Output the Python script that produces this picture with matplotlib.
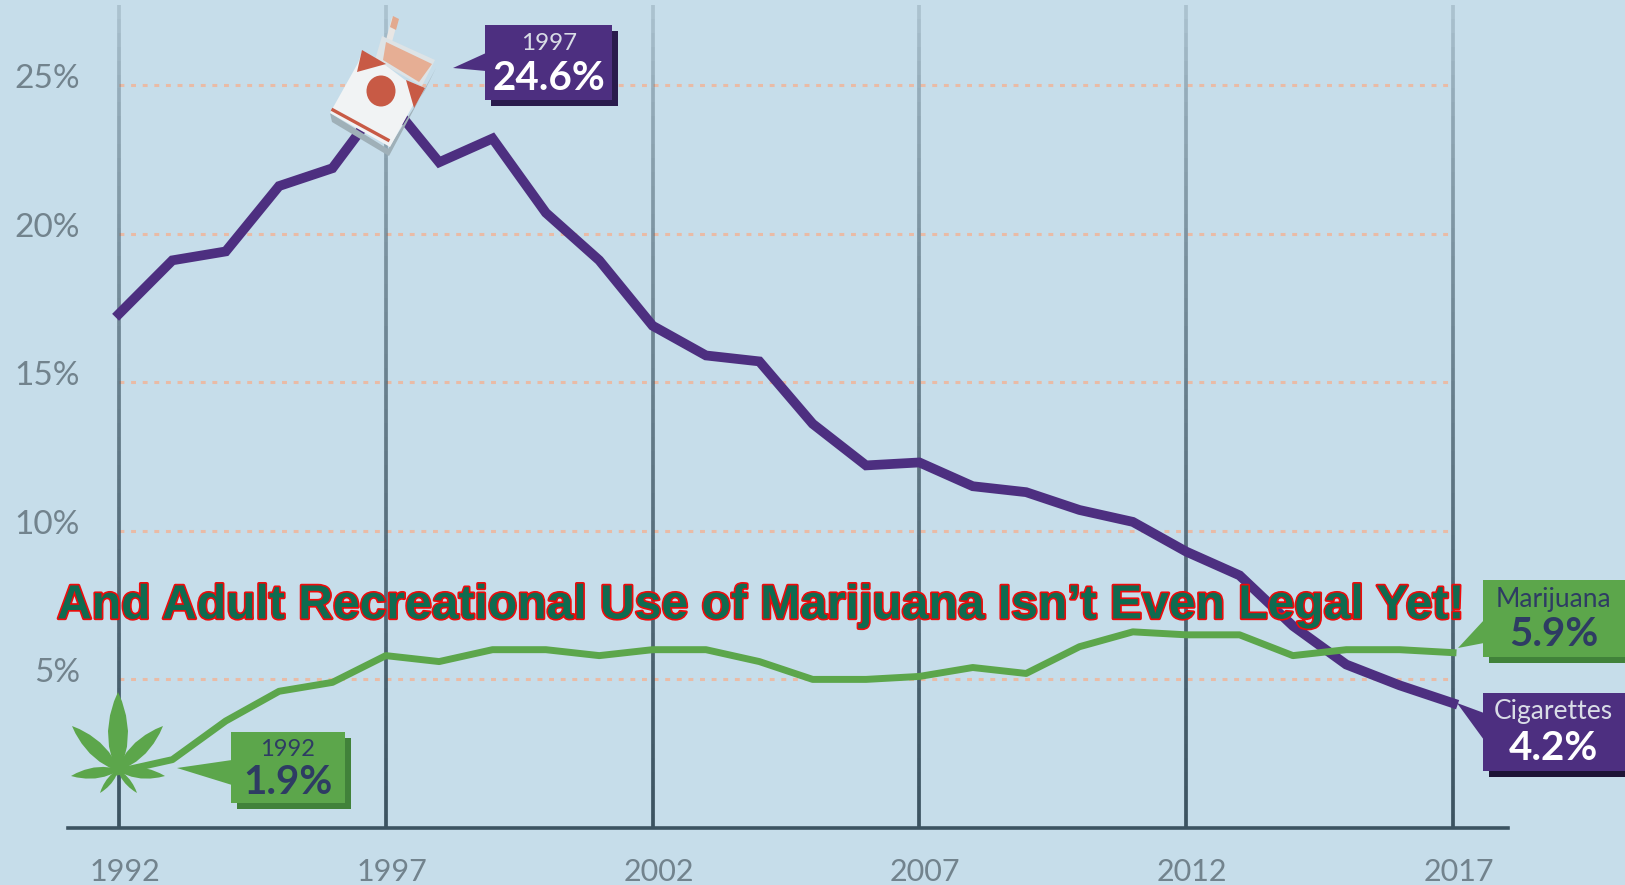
import matplotlib
matplotlib.use("Agg")
import matplotlib.pyplot as plt
import matplotlib.patheffects as pe
from matplotlib.collections import LineCollection
from matplotlib.patches import Polygon, Ellipse, Rectangle
from matplotlib.transforms import ScaledTranslation
import numpy as np

years = list(range(1992, 2018))
cigarettes = [17.3, 19.1, 19.4, 21.6, 22.2, 24.6, 22.4, 23.2, 20.7, 19.1, 16.9, 15.9, 15.7,
              13.6, 12.2, 12.3, 11.5, 11.3, 10.7, 10.3, 9.3, 8.5, 6.8, 5.5, 4.8, 4.2]
marijuana = [1.9, 2.3, 3.6, 4.6, 4.9, 5.8, 5.6, 6.0, 6.0, 5.8, 6.0, 6.0, 5.6,
             5.0, 5.0, 5.1, 5.4, 5.2, 6.1, 6.6, 6.5, 6.5, 5.8, 6.0, 6.0, 5.9]
x_ticks = [1992, 1997, 2002, 2007, 2012, 2017]
y_ticks = [5, 10, 15, 20, 25]
y_labels = ["5%", "10%", "15%", "20%", "25%"]
overlay_text = "And Adult Recreational Use of Marijuana Isn\u2019t Even Legal Yet!"

BG = "#C6DDEA"
PURPLE = "#4D2F80"
GREEN = "#5CA64B"
GREY = "#72838D"
NAVY = "#2E3C63"
DARK = "#3C5361"

plt.rcParams["font.family"] = ["Lato", "DejaVu Sans"]

fig = plt.figure(figsize=(16.25, 8.85), dpi=100, facecolor=BG)
ax = fig.add_axes([0, 0, 1, 1], facecolor=BG)

# map the years and percents on to the pixel positions of the original
ax.set_xlim(1992 - 119 / 53.36, 1992 + (1625 - 119) / 53.36)
ax.set_ylim(-(885 - 828) / 29.72, 828 / 29.72)

# vertical lines fade out toward the top
for yr in x_ticks:
    ys = np.linspace(0, 27.7, 60)
    segs = [[(yr, ys[i]), (yr, ys[i + 1])] for i in range(len(ys) - 1)]
    alphas = np.clip(np.linspace(1.0, 0.05, 59) ** 0.55, 0, 1)
    cols = [matplotlib.colors.to_rgba(DARK, a) for a in alphas]
    ax.add_collection(LineCollection(segs, colors=cols, linewidths=2.7, zorder=2))

ax.hlines(y_ticks, 1992, 2017, color="#E9BBA6", linewidth=2.2,
          linestyle=(0, (1.6, 2.2)), zorder=1)

ax.plot(years, cigarettes, color=PURPLE, lw=7, solid_joinstyle="miter", zorder=3)
ax.plot(years, marijuana, color=GREEN, lw=5, solid_joinstyle="round", zorder=3)

for name in ["top", "right"]:
    ax.spines[name].set_visible(False)
ax.spines["left"].set_visible(False)
ax.spines["left"].set_position(("data", 1992))
ax.spines["bottom"].set_position(("data", 0))
ax.spines["bottom"].set_bounds(1992 - 51 / 53.36, 1992 + 1389 / 53.36)
ax.spines["bottom"].set_color(DARK)
ax.spines["bottom"].set_linewidth(2.6)
ax.spines["bottom"].set_zorder(4)

ax.set_xticks(x_ticks)
ax.set_yticks(y_ticks)
ax.set_yticklabels(y_labels)
ax.tick_params(axis="x", length=0, pad=21.5, labelsize=22, labelcolor=GREY)
ax.tick_params(axis="y", length=0, pad=28, labelsize=24, labelcolor=GREY)
for lab in ax.get_xticklabels():
    lab.set_transform(lab.get_transform() + ScaledTranslation(6 / 100, 0, fig.dpi_scale_trans))
for lab in ax.get_yticklabels():
    lab.set_transform(lab.get_transform() + ScaledTranslation(0, 9 / 100, fig.dpi_scale_trans))

# everything below (callouts, icons) is placed in pixels
px = fig.add_axes([0, 0, 1, 1], facecolor="none")
px.set_xlim(0, 1625)
px.set_ylim(885, 0)
px.axis("off")


def callout(x0, x1, y0, y1, tip, base, color, shadow):
    px.add_patch(Rectangle((x0 + 6, y0 + 6), x1 - x0, y1 - y0, color=shadow, lw=0, zorder=5))
    px.add_patch(Rectangle((x0, y0), x1 - x0, y1 - y0, color=color, lw=0, zorder=6))
    px.add_patch(Polygon([tip, (x0 + 1, base[0]), (x0 + 1, base[1])], color=color, lw=0, zorder=6))


def leaflet(start, tip, width):
    # pointed lens shape from start to tip
    s, t = np.array(start, float), np.array(tip, float)
    d = t - s
    n = np.array([-d[1], d[0]]) / np.hypot(*d)
    f = np.array([0, 0.12, 0.3, 0.5, 0.7, 0.88, 1])
    w = np.array([0.1, 0.55, 0.9, 1, 0.8, 0.4, 0]) * width / 2
    left = [s + d * a + n * b for a, b in zip(f, w)]
    right = [s + d * a - n * b for a, b in zip(f, w)]
    px.add_patch(Polygon(left + right[::-1], color=GREEN, lw=0, zorder=6))


callout(485, 612, 25, 100, (453, 68), (53, 71), PURPLE, "#2A1B4D")
px.text(549, 44, "1997", color="#D9DDE6", fontsize=17.5, ha="center", va="center", zorder=7)
px.text(549, 78, "24.6%", color="white", fontsize=29, fontweight="bold", ha="center", va="center", zorder=7)

callout(231, 345, 732, 803, (177, 768), (760, 785), GREEN, "#41823A")
px.text(287, 750, "1992", color=NAVY, fontsize=17, ha="center", va="center", zorder=7)
px.text(288, 783, "1.9%", color=NAVY, fontsize=29, fontweight="bold", ha="center", va="center", zorder=7)

callout(1483, 1640, 580, 657, (1458, 648), (620, 643), GREEN, "#41823A")
px.text(1553, 599, "Marijuana", color=NAVY, fontsize=19, ha="center", va="center", zorder=7)
px.text(1554, 634, "5.9%", color=NAVY, fontsize=29, fontweight="bold", ha="center", va="center", zorder=7)

callout(1483, 1640, 693, 771, (1457, 703), (713, 740), PURPLE, "#1D1436")
px.text(1553, 712, "Cigarettes", color="#D9DDE6", fontsize=19, ha="center", va="center", zorder=7)
px.text(1553, 748, "4.2%", color="white", fontsize=29, fontweight="bold", ha="center", va="center", zorder=7)

# leaf icon over the 1992 point
leaf = (118, 770)
leaflet(leaf, (118, 692), 20)
leaflet(leaf, (72, 726), 15)
leaflet(leaf, (163, 726), 15)
leaflet(leaf, (71, 776), 11)
leaflet(leaf, (165, 776), 11)
leaflet(leaf, (100, 793), 6)
leaflet(leaf, (137, 793), 6)

# cigarette pack over the 1997 point
px.add_patch(Polygon([(386, 40), (392, 17), (398, 20), (392, 42)], color="#E8E6E4", lw=0, zorder=5))
px.add_patch(Polygon([(390, 27), (393, 16), (399, 19), (396, 30)], color="#E2A98F", lw=0, zorder=5))
px.add_patch(Polygon([(332, 122), (389, 156), (436, 68), (425, 90), (388, 149), (330, 113)],
                     color="#9FB0B8", lw=0, zorder=5))
px.add_patch(Polygon([(382, 36), (435, 60), (422, 86), (375, 60)], color="#DDE3E6", lw=0, zorder=5))
px.add_patch(Polygon([(386, 42), (432, 64), (419, 82), (383, 60)], color="#E6AE94", lw=0, zorder=6))
px.add_patch(Polygon([(358, 63), (362, 52), (384, 64), (405, 80), (423, 87), (390, 147), (330, 113)],
                     color="#F1F3F4", lw=0, zorder=6))
px.add_patch(Polygon([(362, 50), (386, 64), (357, 72)], color="#C85A45", lw=0, zorder=7))
px.add_patch(Polygon([(406, 80), (425, 88), (414, 108)], color="#C85A45", lw=0, zorder=7))
px.add_patch(Ellipse((381, 91), 29, 31, color="#C85A45", lw=0, zorder=7))
px.plot([333, 388], [110, 140], color="#C85A45", lw=2.4, zorder=7)

px.text(761, 606, overlay_text, color="#0F6B50", fontsize=34.6, fontweight="bold",
        family=["Liberation Sans", "DejaVu Sans"], ha="center", va="center", zorder=9,
        path_effects=[pe.withStroke(linewidth=2.4, foreground="#F00A0A")])

fig.savefig("out.png", dpi=100, facecolor=BG)
